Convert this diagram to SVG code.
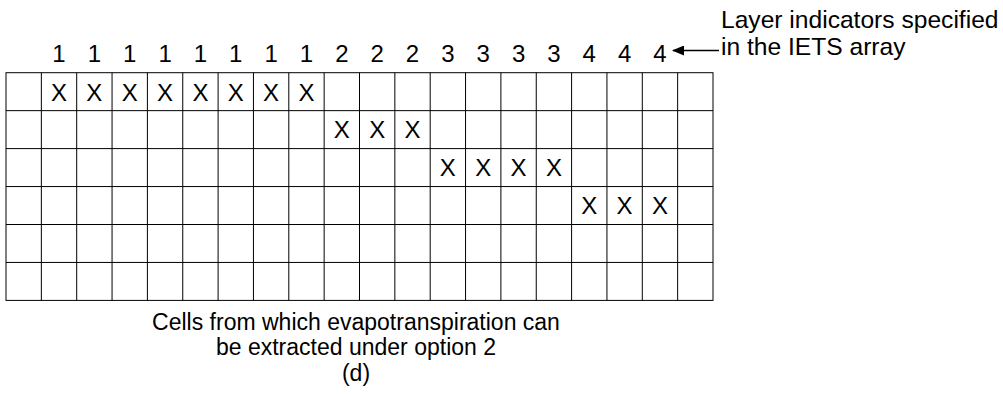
<svg xmlns="http://www.w3.org/2000/svg" width="1003" height="396" viewBox="0 0 1003 396">
<style>
text{font-family:"Liberation Sans",Arial,sans-serif;font-size:24px;fill:#000}
.c{text-anchor:middle}
.ann{font-size:24.6px}
.cap{font-size:23px}
.grid{fill:none;stroke:#000;stroke-width:1}
</style>
<defs>
<marker id="ah" markerWidth="12" markerHeight="10" refX="11" refY="5" orient="auto" markerUnits="userSpaceOnUse">
<path d="M0,0 L12,5 L0,10 Z" fill="#000"/>
</marker>
</defs>
<rect width="1003" height="396" fill="#fff"/>
<g id="grid">
<rect class="grid" x="6" y="72.7" width="707" height="227.7"/>
<path class="grid" d="M6,110.65H713M6,148.6H713M6,186.55H713M6,224.5H713M6,262.45H713
M41.35,72.7V300.4M76.7,72.7V300.4M112.05,72.7V300.4M147.4,72.7V300.4M182.75,72.7V300.4M218.1,72.7V300.4M253.45,72.7V300.4M288.8,72.7V300.4M324.15,72.7V300.4M359.5,72.7V300.4M394.85,72.7V300.4M430.2,72.7V300.4M465.55,72.7V300.4M500.9,72.7V300.4M536.25,72.7V300.4M571.6,72.7V300.4M606.95,72.7V300.4M642.3,72.7V300.4M677.65,72.7V300.4"/>
</g>
<g id="layer-labels">
<text x="59.03" y="61.5" class="c">1</text>
<text x="94.38" y="61.5" class="c">1</text>
<text x="129.73" y="61.5" class="c">1</text>
<text x="165.08" y="61.5" class="c">1</text>
<text x="200.43" y="61.5" class="c">1</text>
<text x="235.78" y="61.5" class="c">1</text>
<text x="271.13" y="61.5" class="c">1</text>
<text x="306.48" y="61.5" class="c">1</text>
<text x="341.83" y="61.5" class="c">2</text>
<text x="377.18" y="61.5" class="c">2</text>
<text x="412.53" y="61.5" class="c">2</text>
<text x="447.88" y="61.5" class="c">3</text>
<text x="483.23" y="61.5" class="c">3</text>
<text x="518.58" y="61.5" class="c">3</text>
<text x="553.93" y="61.5" class="c">3</text>
<text x="589.28" y="61.5" class="c">4</text>
<text x="624.63" y="61.5" class="c">4</text>
<text x="659.98" y="61.5" class="c">4</text>
</g>
<g id="marks">
<text x="59.03" y="100.5" class="c">X</text>
<text x="94.38" y="100.5" class="c">X</text>
<text x="129.73" y="100.5" class="c">X</text>
<text x="165.08" y="100.5" class="c">X</text>
<text x="200.43" y="100.5" class="c">X</text>
<text x="235.78" y="100.5" class="c">X</text>
<text x="271.13" y="100.5" class="c">X</text>
<text x="306.48" y="100.5" class="c">X</text>
<text x="341.83" y="138.4" class="c">X</text>
<text x="377.18" y="138.4" class="c">X</text>
<text x="412.53" y="138.4" class="c">X</text>
<text x="447.88" y="176.4" class="c">X</text>
<text x="483.23" y="176.4" class="c">X</text>
<text x="518.58" y="176.4" class="c">X</text>
<text x="553.93" y="176.4" class="c">X</text>
<text x="589.28" y="214.3" class="c">X</text>
<text x="624.63" y="214.3" class="c">X</text>
<text x="659.98" y="214.3" class="c">X</text>
</g>
<g id="annotation">
<text x="721" y="28" class="ann">Layer indicators specified</text>
<text x="721" y="55" class="ann">in the IETS array</text>
</g>
<g id="caption">
<text x="356" y="330" class="c cap">Cells from which evapotranspiration can</text>
<text x="356" y="355" class="c cap">be extracted under option 2</text>
<text x="356" y="381" class="c cap">(d)</text>
</g>
<g id="connectors">
<line x1="719" y1="50.5" x2="673" y2="50.5" stroke="#000" stroke-width="1.3" marker-end="url(#ah)"/>
</g>
</svg>
